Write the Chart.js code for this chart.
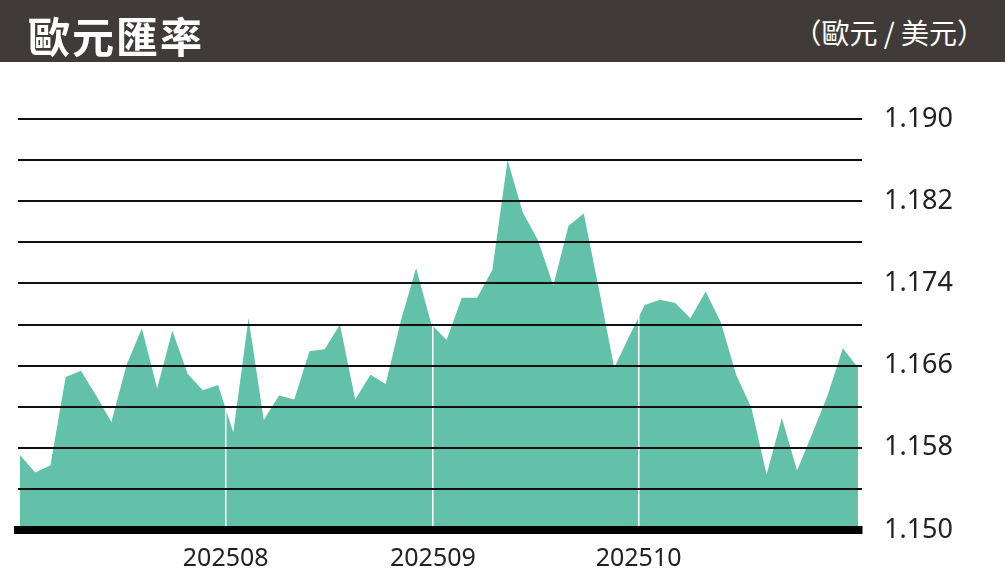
<!DOCTYPE html>
<html>
<head>
<meta charset="utf-8">
<script src="https://cdn.jsdelivr.net/npm/chart.js@4"></script>
<style>
  html, body { margin: 0; padding: 0; background: #fff; width: 1005px; height: 581px; overflow: hidden; }
  #bar { height: 62px; background: #403b39; color: #fff; position: relative; font-family: "Noto Sans CJK TC", sans-serif; }
  #title { position: absolute; left: 28px; top: 4px; font-size: 42px; font-weight: bold; letter-spacing: 2px; }
  #unit { position: absolute; right: 20px; top: 12px; font-size: 28px; }
  #wrap { width: 1005px; height: 519px; }
</style>
</head>
<body>
<div id="bar"><div id="title">歐元匯率</div><div id="unit">（歐元 / 美元）</div></div>
<div id="wrap"><canvas id="c"></canvas></div>
<script>
// daily EUR/USD
var rates = [
  1.1573, 1.1556, 1.1563, 1.1649, 1.1655, 1.1631, 1.1605, 1.1661, 1.1696, 1.1638,
  1.1694, 1.1652, 1.1636, 1.1641, 1.1595, 1.1706, 1.1607, 1.1631, 1.1627, 1.1674,
  1.1676, 1.1700, 1.1627, 1.1651, 1.1642, 1.1704, 1.1755, 1.1700, 1.1685, 1.1726,
  1.1726, 1.1753, 1.1860, 1.1809, 1.1782, 1.1738, 1.1796, 1.1808, 1.1734, 1.1658,
  1.1689, 1.1719, 1.1724, 1.1721, 1.1706, 1.1732, 1.1702, 1.1651, 1.1619, 1.1554,
  1.1609, 1.1558, 1.1594, 1.1631, 1.1677, 1.1658
];
var monthLabels = ['202508', '202509', '202510'];
var monthPos = [13.5, 27.1, 40.6];
var yMin = 1.150, yMax = 1.190, yStep = 0.004;

var points = rates.map(function (v, i) { return { x: i, y: v }; });

new Chart(document.getElementById('c'), {
  type: 'line',
  data: {
    datasets: [{
      data: points,
      fill: 'start',
      backgroundColor: '#63c1a9',
      borderWidth: 0,
      pointRadius: 0,
      tension: 0
    }]
  },
  options: {
    responsive: true,
    maintainAspectRatio: false,
    animation: false,
    layout: { padding: { left: 18, top: 57, right: 0, bottom: 0 } },
    plugins: { legend: { display: false }, tooltip: { enabled: false } },
    scales: {
      x: {
        type: 'linear',
        min: -0.13,
        max: rates.length - 1 + 0.26,
        afterBuildTicks: function (axis) {
          axis.ticks = monthPos.map(function (p) { return { value: p }; });
        },
        afterFit: function (axis) { axis.height = 51; },
        ticks: {
          autoSkip: false,
          maxRotation: 0,
          padding: 14,
          color: '#222',
          font: { family: 'Noto Sans', size: 25 },
          callback: function (v, i) { return monthLabels[i]; }
        },
        grid: { color: '#ffffff', lineWidth: 1.5, drawTicks: false, z: 1 },
        border: { display: true, color: '#000', width: 8, z: 2 }
      },
      y: {
        position: 'right',
        min: yMin,
        max: yMax,
        afterFit: function (axis) { axis.width = 143; },
        ticks: {
          stepSize: yStep,
          padding: 22,
          color: '#222',
          font: { family: 'Noto Sans', size: 27 },
          callback: function (v) {
            var k = Math.round((v - yMin) / yStep);
            return k % 2 === 0 ? v.toFixed(3) : '';
          }
        },
        grid: { color: '#111', lineWidth: 2, drawTicks: false, z: 1 },
        border: { display: false }
      }
    }
  }
});
</script>
</body>
</html>
